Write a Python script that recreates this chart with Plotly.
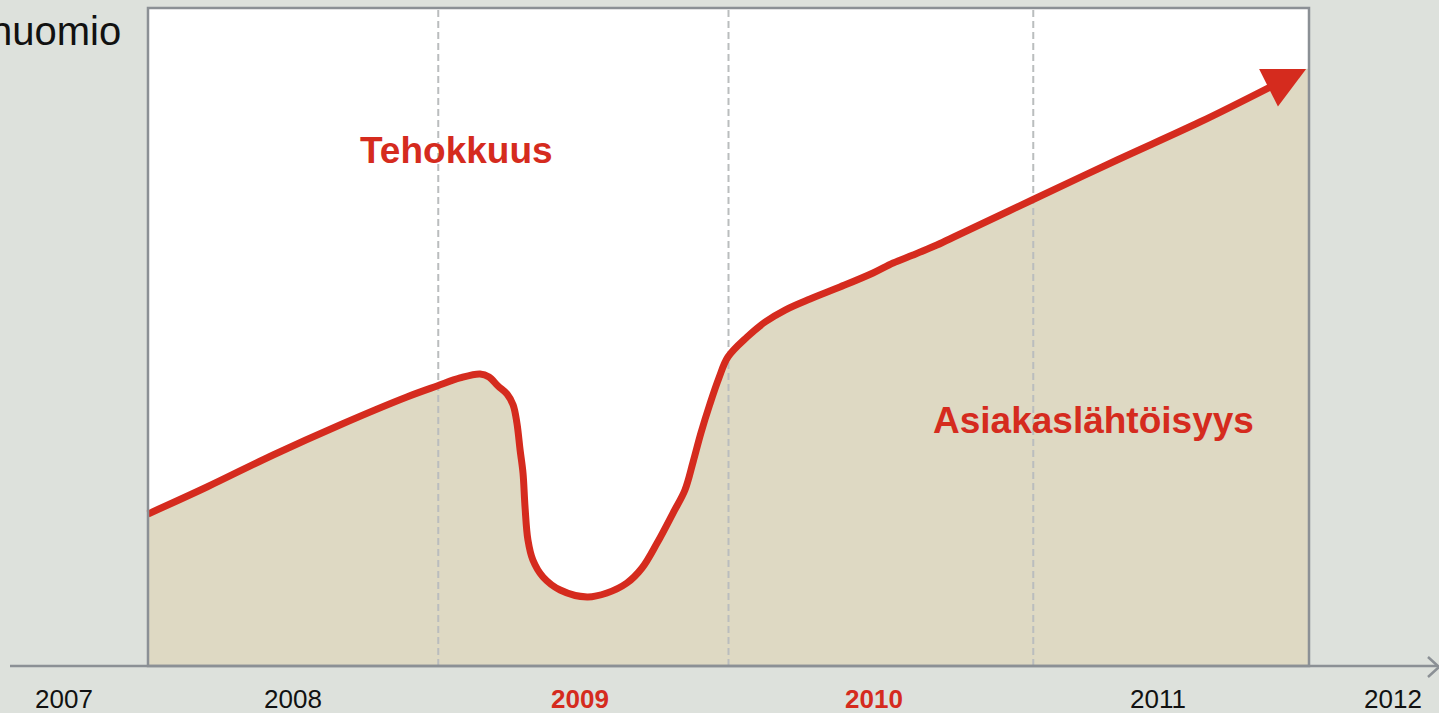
import plotly.graph_objects as go

# ---------------- data (x = time in years, y = index, 100 = top of panel) ----------------
x_curve = [2007.500, 2007.703, 2007.931, 2008.161, 2008.392, 2008.496, 2008.575, 2008.644,
           2008.675, 2008.706, 2008.737, 2008.758, 2008.771, 2008.782, 2008.792, 2008.799,
           2008.809, 2008.826, 2008.861, 2008.920, 2009.013, 2009.081, 2009.150, 2009.202,
           2009.254, 2009.309, 2009.350, 2009.378, 2009.405, 2009.436, 2009.467, 2009.498,
           2009.564, 2009.626, 2009.695, 2009.781, 2009.884, 2009.998, 2010.067, 2010.136,
           2010.218, 2010.291, 2010.546, 2010.839, 2011.124, 2011.366]
y_curve = [23.10, 27.20, 32.07, 36.63, 40.88, 42.55, 43.77, 44.38,
           43.92, 42.55, 41.34, 39.67, 36.93, 32.83, 29.33, 24.16,
           19.15, 16.11, 13.53, 11.55, 10.49, 11.09, 12.61, 14.89,
           18.69, 23.25, 26.75, 31.00, 35.41, 39.82, 43.77, 46.96,
           50.00, 52.28, 54.10, 55.78, 57.60, 59.73, 61.25, 62.46,
           63.98, 65.50, 70.82, 76.90, 82.67, 87.99]
arrow_tip_x = 2011.490
arrow_tip_y = 90.73

grid_x = [2008.5, 2009.5, 2010.55]

year_labels = ["2007", "2008", "2009", "2010", "2011", "2012"]
year_pos = [2007.21, 2008.0, 2008.99, 2010.0, 2010.98, 2011.79]
year_highlight = [False, False, True, True, False, False]

label_top = "Tehokkuus"
label_bottom = "Asiakaslähtöisyys"
corner_text = "huomio"

# ---------------- styling / geometry ----------------
X_LO, X_HI = 2007.5, 2011.5
Y_LO, Y_HI = 0.0, 100.0
PX_PER_YEAR = 290.25
PX_PER_UNIT = 6.58
W, H = 1439, 713

RED = "#d52b1e"
TAN = "#ded9c3"
BG = "#dde1dc"
GREY = "#8b9095"
GRID = "#babdbe"
FONT = "Arial, Liberation Sans, sans-serif"

x_range = [X_LO - 148 / PX_PER_YEAR, X_HI + (W - 1309) / PX_PER_YEAR]
y_range = [Y_LO - (H - 666) / PX_PER_UNIT, Y_HI + 8 / PX_PER_UNIT]


def px_x(p):
    return X_LO + (p - 148) / PX_PER_YEAR


def px_y(p):
    return (666 - p) / PX_PER_UNIT


SMOOTH = 1.0

fig = go.Figure()

# tan area under the curve
fig.add_trace(go.Scatter(
    x=x_curve + [arrow_tip_x, X_HI], y=y_curve + [arrow_tip_y, arrow_tip_y],
    mode="lines", line=dict(width=0, shape="spline", smoothing=SMOOTH),
    fill="tozeroy", fillcolor=TAN, hoverinfo="skip"))

# dashed vertical gridlines
gx, gy = [], []
for g in grid_x:
    gx += [g, g, None]
    gy += [Y_LO, Y_HI, None]
fig.add_trace(go.Scatter(x=gx, y=gy, mode="lines",
                         line=dict(color=GRID, width=2, dash="7px,4px"),
                         hoverinfo="skip"))

# red curve
fig.add_trace(go.Scatter(x=x_curve, y=y_curve, mode="lines",
                         line=dict(color=RED, width=7, shape="spline", smoothing=SMOOTH),
                         hoverinfo="skip"))

shapes = [
    dict(type="rect", layer="below", xref="x", yref="y", x0=X_LO, x1=X_HI, y0=Y_LO, y1=Y_HI,
         fillcolor="white", line=dict(width=0)),
    dict(type="rect", layer="above", xref="x", yref="y", x0=X_LO, x1=X_HI, y0=Y_LO, y1=Y_HI,
         fillcolor="rgba(0,0,0,0)", line=dict(color=GREY, width=2.5)),
    dict(type="line", layer="above", xref="paper", yref="y", x0=10 / W, x1=1437 / W, y0=0, y1=0,
         line=dict(color=GREY, width=2.5)),
    dict(type="path", layer="above", xref="paper", yref="paper",
         path=f"M {1428 / W},{1 - 657 / H} L {1439 / W},{1 - 667 / H} L {1428 / W},{1 - 677 / H}",
         line=dict(color=GREY, width=2.5)),
]

scale = 8.4
annotations = [
    dict(x=arrow_tip_x, y=arrow_tip_y, ax=x_curve[-1], ay=y_curve[-1], axref="x", ayref="y",
         xref="x", yref="y", text="", showarrow=True, arrowhead=2, arrowwidth=7,
         arrowsize=scale / 7, standoff=0, arrowcolor=RED),
    dict(x=px_x(456.5), y=px_y(150.7), xref="x", yref="y", text=f"<b>{label_top}</b>",
         showarrow=False, font=dict(family=FONT, size=37, color=RED)),
    dict(x=px_x(1093.5), y=px_y(420.7), xref="x", yref="y", text=f"<b>{label_bottom}</b>",
         showarrow=False, font=dict(family=FONT, size=37, color=RED)),
    dict(x=px_x(123), y=px_y(31), xref="x", yref="y", xanchor="right", text=corner_text,
         showarrow=False, font=dict(family=FONT, size=40, color="#111111")),
]
for lab, pos, hl in zip(year_labels, year_pos, year_highlight):
    annotations.append(dict(
        x=pos, y=px_y(699), xref="x", yref="y", showarrow=False,
        text=f"<b>{lab}</b>" if hl else lab,
        font=dict(family=FONT, size=26, color=RED if hl else "#111111")))

fig.update_layout(
    width=W, height=H, margin=dict(l=0, r=0, t=0, b=0),
    paper_bgcolor=BG, plot_bgcolor="rgba(0,0,0,0)", showlegend=False,
    xaxis=dict(range=x_range, visible=False, fixedrange=True),
    yaxis=dict(range=y_range, visible=False, fixedrange=True),
    shapes=shapes, annotations=annotations,
)

fig.write_html("out.html", config={"displayModeBar": False},
               post_script="document.body.style.margin='0';document.body.style.overflow='hidden';")
